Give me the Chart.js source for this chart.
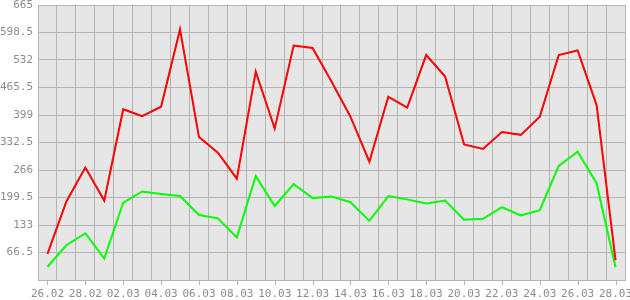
<!DOCTYPE html>
<html>
<head>
<meta charset="utf-8">
<script src="https://cdn.jsdelivr.net/npm/chart.js@4"></script>
<style>
  html, body { margin: 0; padding: 0; background: #fff; }
  #wrap { width: 630px; height: 300px; }
</style>
</head>
<body>
<div id="wrap"><canvas id="myChart"></canvas></div>
<script>
const days = ['26.02','27.02','28.02','01.03','02.03','03.03','04.03','05.03','06.03','07.03',
              '08.03','09.03','10.03','11.03','12.03','13.03','14.03','15.03','16.03','17.03',
              '18.03','19.03','20.03','21.03','22.03','23.03','24.03','25.03','26.03','27.03','28.03'];
const redValues = [63, 190, 272, 192, 413, 396, 419, 606, 346, 308,
                   245, 504, 366, 567, 561, 480, 395, 286, 443, 417,
                   544, 492, 328, 317, 358, 351, 395, 544, 555, 423, 48];
const greenValues = [32, 84, 113, 52, 187, 214, 208, 203, 157, 149,
                     103, 251, 179, 232, 198, 202, 188, 143, 203, 195,
                     185, 192, 146, 148, 176, 156, 169, 276, 310, 234, 31];
const yTicks = [0, 66.5, 133, 199.5, 266, 332.5, 399, 465.5, 532, 598.5, 665];

const gridColor = '#b4b4b4';
const textColor = '#8c8c8c';
const font = { family: 'DejaVu Sans Mono', size: 11 };

// grey plot background
const bgPlugin = {
  id: 'bg',
  beforeDraw(chart) {
    const a = chart.chartArea, ctx = chart.ctx;
    ctx.save();
    ctx.fillStyle = '#e6e6e6';
    ctx.fillRect(a.left, a.top, a.right - a.left, a.bottom - a.top);
    ctx.restore();
  }
};

// small tick marks under the labelled days
const tickPlugin = {
  id: 'tickmarks',
  afterDraw(chart) {
    const x = chart.scales.x, ctx = chart.ctx, b = chart.chartArea.bottom;
    ctx.save();
    ctx.strokeStyle = gridColor;
    ctx.lineWidth = 1;
    ctx.beginPath();
    days.forEach((d, i) => {
      if (i % 2) return;
      const px = Math.round(x.getPixelForValue(i)) + 0.5;
      ctx.moveTo(px, b);
      ctx.lineTo(px, b + 5);
    });
    ctx.stroke();
    ctx.restore();
  }
};

// no extra room for overhanging labels
function noPad(s) {
  s.paddingLeft = 0; s.paddingRight = 0; s.paddingTop = 0; s.paddingBottom = 0;
}

const data = {
  labels: days,
  datasets: [{
    label: 'red',
    data: redValues,
    borderColor: '#ff0000',
    borderWidth: 2,
    pointRadius: 0,
    tension: 0,
    fill: false
  }, {
    label: 'green',
    data: greenValues,
    borderColor: '#00ff00',
    borderWidth: 2,
    pointRadius: 0,
    tension: 0,
    fill: false
  }]
};

const config = {
  type: 'line',
  data: data,
  plugins: [bgPlugin, tickPlugin],
  options: {
    responsive: true,
    maintainAspectRatio: false,
    animation: false,
    layout: { padding: { top: 5, right: 5, left: 0, bottom: 0 } },
    plugins: { legend: { display: false }, tooltip: { enabled: false } },
    scales: {
      x: {
        offset: true,
        grid: { offset: true, color: gridColor, drawTicks: false },
        border: { color: gridColor },
        afterFit(s) { s.height = 20; noPad(s); },
        ticks: {
          autoSkip: false,
          maxRotation: 0,
          padding: 8,
          color: textColor,
          font: font,
          callback: (v, i) => (i % 2 === 0 ? days[i] : '')
        }
      },
      y: {
        min: 0,
        max: 665,
        grid: { color: gridColor, drawTicks: false },
        border: { color: gridColor },
        afterFit(s) { s.width = 38; noPad(s); },
        afterBuildTicks(s) { s.ticks = yTicks.map(v => ({ value: v })); },
        ticks: {
          padding: 5,
          color: textColor,
          font: font,
          callback: v => (v === 0 ? '' : String(v))
        }
      }
    }
  }
};

const myChart = new Chart(document.getElementById('myChart'), config);
</script>
</body>
</html>
